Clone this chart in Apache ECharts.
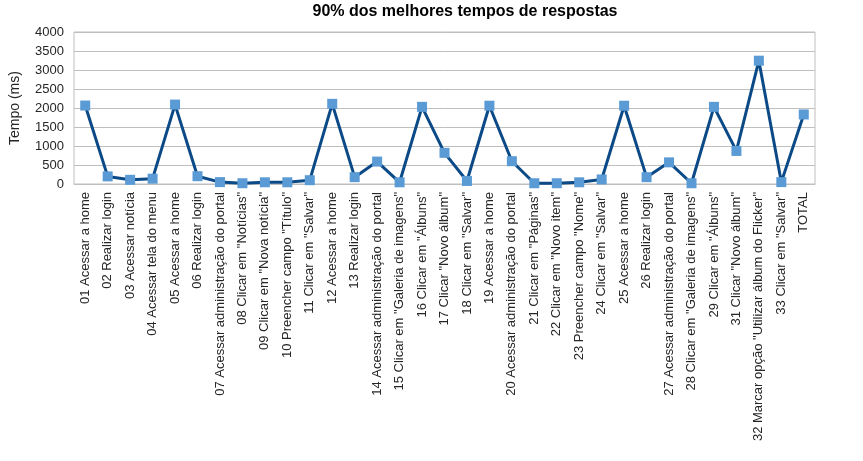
<!DOCTYPE html>
<html>
<head>
<meta charset="utf-8">
<title>tempos</title>
<script src="https://cdn.jsdelivr.net/npm/echarts@6/dist/echarts.min.js"></script>
<style>
  body { margin: 0; padding: 0; background: #fff; }
  #main { width: 863px; height: 461px; }
</style>
</head>
<body>
<div id="main"></div>
<script type="text/javascript">
// categorias (eixo x)
var etapas = [
  '01 Acessar a home', '02 Realizar login', '03 Acessar notícia', '04 Acessar tela do menu',
  '05 Acessar a home', '06 Realizar login', '07 Acessar administração do portal',
  '08 Clicar em "Notícias"', '09 Clicar em "Nova notícia"', '10 Preencher campo "Título"',
  '11 Clicar em "Salvar"', '12 Acessar a home', '13 Realizar login',
  '14 Acessar administração do portal', '15 Clicar em "Galeria de imagens"',
  '16 Clicar em "Álbuns"', '17 Clicar "Novo álbum"', '18 Clicar em "Salvar"',
  '19 Acessar a home', '20 Acessar administração do portal', '21 Clicar em "Páginas"',
  '22 Clicar em "Novo item"', '23 Preencher campo "Nome"', '24 Clicar em "Salvar"',
  '25 Acessar a home', '26 Realizar login', '27 Acessar administração do portal',
  '28 Clicar em "Galeria de imagens"', '29 Clicar em "Álbuns"', '31 Clicar "Novo álbum"',
  '32 Marcar opção "Utilizar álbum do Flicker"', '33 Clicar em "Salvar"', 'TOTAL'
];
// 90% dos melhores tempos (ms)
var tempos = [
  2065, 200, 110, 140, 2090, 205, 50, 20, 45, 45,
  100, 2110, 180, 590, 45, 2030, 820, 80, 2060, 600,
  20, 20, 45, 120, 2060, 180, 570, 20, 2030, 870,
  3245, 50, 1830
];
var yTicks = { min: 0, max: 4000, interval: 500 };

var chart = echarts.init(document.getElementById('main'));
chart.setOption({
  animation: false,
  title: {
    text: '90% dos melhores tempos de respostas',
    left: 460,
    textAlign: 'center',
    top: -1,
    textStyle: { fontFamily: 'Liberation Sans', fontSize: 16, fontWeight: 'bold', color: '#000' }
  },
  grid: {
    left: 67, right: 48, top: 32, bottom: 277,
    show: true, borderColor: '#BFBFBF', borderWidth: 1
  },
  xAxis: {
    type: 'category',
    data: etapas,
    boundaryGap: true,
    axisTick: { show: false },
    axisLine: { lineStyle: { color: '#BFBFBF' } },
    axisLabel: {
      interval: 0, rotate: 90, margin: 8,
      fontFamily: 'Liberation Sans', fontSize: 13, color: '#262626'
    }
  },
  yAxis: {
    type: 'value',
    min: yTicks.min, max: yTicks.max, interval: yTicks.interval,
    name: 'Tempo (ms)',
    nameLocation: 'middle',
    nameGap: 52,
    nameTextStyle: { fontFamily: 'Liberation Sans', fontSize: 14, color: '#262626' },
    axisLine: { show: false },
    axisTick: { show: false },
    axisLabel: {
      fontFamily: 'Liberation Sans', fontSize: 13, color: '#262626', margin: 10,
      formatter: function (v) { return String(v); }
    },
    splitLine: { lineStyle: { color: '#BFBFBF' } }
  },
  series: [{
    type: 'line',
    data: tempos,
    symbol: 'rect',
    symbolSize: 10,
    lineStyle: { color: '#0B4A86', width: 3 },
    itemStyle: { color: '#5B9BD5' }
  }]
});
</script>
</body>
</html>
